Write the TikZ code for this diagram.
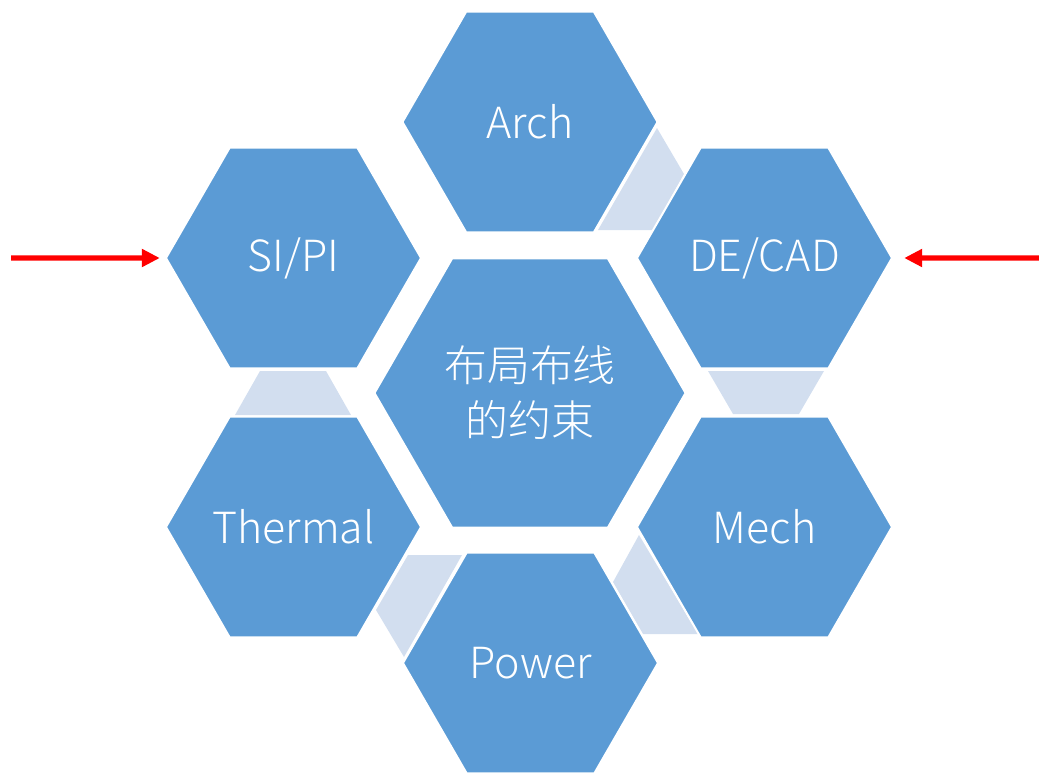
\documentclass[tikz,border=0pt]{standalone}
\usepackage{fontspec}
\setmainfont{Noto Sans CJK SC}[UprightFont={* Light}]
\usetikzlibrary{shapes.geometric,arrows.meta}
\definecolor{hexblue}{HTML}{5B9BD5}
\definecolor{linkgray}{HTML}{D2DEEF}
\tikzset{
	hexcell/.style={regular polygon, regular polygon sides=6, minimum size=6.375cm, inner ysep=0pt, inner xsep=-1cm,
		fill=hexblue, draw=white, line width=0.05cm, text=white, font=\fontsize{30.5}{39}\selectfont},
	hexcore/.style={hexcell, minimum size=7.775cm, align=center},
	hexlink/.style={fill=linkgray},
	redarrow/.style={draw=red, line width=0.13cm, -{Triangle[length=0.45cm,width=0.43cm]}}
}
\begin{document}
\begin{tikzpicture}[x=0.025cm,y=-0.025cm]
			\useasboundingbox (0,0) rectangle (1039,772);
			\coordinate (l1a) at (657,128);
			\coordinate (l1b) at (684,174);
			\coordinate (l1c) at (653,230);
			\coordinate (l1d) at (598,230);
			\coordinate (l2a) at (708,371);
			\coordinate (l2b) at (824,371);
			\coordinate (l2c) at (799,414);
			\coordinate (l2d) at (733,414);
			\coordinate (l3a) at (639,535);
			\coordinate (l3b) at (698,634);
			\coordinate (l3c) at (643,634);
			\coordinate (l3d) at (613,582);
			\coordinate (l4a) at (408,555);
			\coordinate (l4b) at (462,555);
			\coordinate (l4c) at (404,657);
			\coordinate (l4d) at (376,610);
			\coordinate (l5a) at (260,371);
			\coordinate (l5b) at (326,371);
			\coordinate (l5c) at (351,415);
			\coordinate (l5d) at (235,415);
			\coordinate (inL) at (11,258);
			\coordinate (inR) at (1039,258);
			\fill[hexlink] (l1a) -- (l1b) -- (l1c) -- (l1d) -- cycle;
			\fill[hexlink] (l2a) -- (l2b) -- (l2c) -- (l2d) -- cycle;
			\fill[hexlink] (l3a) -- (l3b) -- (l3c) -- (l3d) -- cycle;
			\fill[hexlink] (l4a) -- (l4b) -- (l4c) -- (l4d) -- cycle;
			\fill[hexlink] (l5a) -- (l5b) -- (l5c) -- (l5d) -- cycle;
			\node[hexcell] (arch) at (530,122) {Arch};
			\node[hexcell] (sipi) at (293.5,258) {SI/PI};
			\node[hexcell] (decad) at (764.5,258) {DE/CAD};
			\node[hexcore] (core) at (530,393) {布局布线\\的约束};
			\node[hexcell] (thermal) at (293.5,527) {Thermal};
			\node[hexcell] (mech) at (764.5,527) {Mech};
			\node[hexcell] (power) at (530.5,663) {Power};
			\draw[redarrow, shorten >=5*0.025cm] (inL) -- (sipi.west);
			\draw[redarrow, shorten >=11*0.025cm] (inR) -- (decad.east);
\end{tikzpicture}
\end{document}
